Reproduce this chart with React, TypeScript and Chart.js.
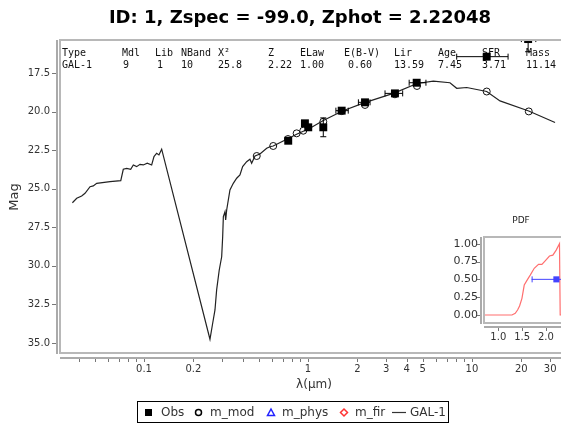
import React, { useEffect, useRef } from 'react';
import { Chart, registerables } from 'chart.js';

Chart.register(...registerables);

// ---- SED template GAL-1 (wavelength in micron, AB magnitude) ----
const sedWavelength = [
  0.0366, 0.0389, 0.0417, 0.0437, 0.0469, 0.0491, 0.0515, 0.0621, 0.0722, 0.0748,
  0.0785, 0.083, 0.0861, 0.0902, 0.0946, 0.0991, 0.1047, 0.1114, 0.1151, 0.1195,
  0.1234, 0.1282, 0.2526, 0.2624, 0.271, 0.2774, 0.2877, 0.2977, 0.3019, 0.3048,
  0.3119, 0.3149, 0.3194, 0.3344, 0.3505, 0.3675, 0.3848, 0.3996, 0.4228, 0.4427,
  0.4535, 0.4753, 0.5096, 0.56, 0.5866, 0.614, 0.7068, 0.853, 1.028, 1.24,
  1.623, 2.194, 3.35, 4.62, 5.81, 7.34, 8.07, 9.29, 12.3, 14.82, 22.18, 32.1,
];
const sedMag = [
  25.91, 25.62, 25.47, 25.3, 24.87, 24.82, 24.65, 24.54, 24.48, 23.74,
  23.68, 23.74, 23.46, 23.57, 23.42, 23.46, 23.35, 23.46, 22.92, 22.7,
  22.81, 22.44, 34.76, 33.72, 32.86, 31.56, 30.27, 29.41, 28.11, 26.81,
  26.49, 27.03, 26.38, 25.08, 24.65, 24.32, 24.11, 23.57, 23.25, 23.09,
  23.35, 22.88, 22.75, 22.38, 22.28, 22.23, 21.91, 21.47, 21.08, 20.58,
  19.96, 19.44, 18.8, 18.18, 18.02, 18.13, 18.49, 18.44, 18.7, 19.31, 19.96, 20.71,
];

// ---- observed photometry ----
const obsWavelength = [0.758, 0.958, 1.004, 1.24, 1.605, 2.227, 3.39, 4.6, 12.3, 22.0];
const obsMag = [21.89, 20.76, 21.02, 21.02, 19.94, 19.4, 18.82, 18.13, 16.44, 15.3];
const obsMagErr = [0, 0, 0, 0.61, 0, 0, 0, 0, 0, 0.82];
const obsBandLo = [0.758, 0.958, 1.004, 1.24, 1.48, 2.03, 2.95, 4.14, 8.07, 20.0];
const obsBandHi = [0.758, 0.958, 1.004, 1.24, 1.76, 2.39, 3.78, 5.24, 16.6, 24.5];

// ---- model magnitudes in each band ----
const modWavelength = [0.487, 0.614, 0.755, 0.853, 0.936, 1.24, 1.605, 2.227, 3.39, 4.62, 12.3, 22.2];
const modMag = [22.88, 22.23, 21.78, 21.41, 21.24, 20.66, 19.97, 19.57, 18.88, 18.34, 18.7, 19.99];

// ---- photo-z probability distribution ----
const pdfZ = [0.7, 1.287, 1.356, 1.405, 1.447, 1.497, 1.545, 1.615, 1.671, 1.755, 1.845, 1.916, 1.985, 2.075, 2.146, 2.216, 2.285, 2.3, 2.5];
const pdfProb = [0, 0, 0.024, 0.07, 0.126, 0.234, 0.42, 0.5, 0.56, 0.655, 0.71, 0.71, 0.76, 0.827, 0.84, 0.91, 1.0, 0, 0];
const zPhot = 2.22;
const zPhotLo = 1.7;
const zPhotHi = 2.6;

// ---- axis ticks ----
const xTickValues = [0.04, 0.05, 0.06, 0.07, 0.08, 0.09, 0.1, 0.2, 0.3, 0.4, 0.5, 0.6, 0.7, 0.8, 0.9, 1, 2, 3, 4, 5, 6, 7, 8, 9, 10, 20, 30];
const xTickLabelled = [0.1, 0.2, 1, 2, 3, 4, 5, 10, 20, 30];
const yTickValues = [17.5, 20, 22.5, 25, 27.5, 30, 32.5, 35];
const pdfYTicks = [0, 0.25, 0.5, 0.75, 1];
const pdfXTicks = [1, 1.5, 2];

// ---- fit summary table ----
const tableHeader = ['Type', 'Mdl', 'Lib', 'NBand', 'X\u00b2', 'Z', 'ELaw', 'E(B-V)', 'Lir', 'Age', 'SFR', 'Mass'];
const tableValues = ['GAL-1', '9', '1', '10', '25.8', '2.22', '1.00', '0.60', '13.59', '7.45', '3.71', '11.14'];

const titleText = 'ID: 1, Zspec = -99.0, Zphot = 2.22048';

const FONT = 'DejaVu Sans';
const MONO = 'DejaVu Sans Mono';
const FRAME = '#b8b8b8';
const AXIS = '#aaaaaa';
const TICK = '#777777';
const LABEL = '#333333';

// column offsets for the summary table
const headerColX = [62, 122, 155, 181, 218, 268, 300, 344, 394, 438, 482, 526];
const valueColX = [62, 123, 157, 181, 218, 268, 300, 348, 394, 438, 482, 526];

// keep the plot area exactly where the layout puts it
const noPad = (scale: any) => {
  scale.paddingLeft = 0;
  scale.paddingRight = 0;
  scale.paddingTop = 0;
  scale.paddingBottom = 0;
};

const mainDecor = {
  id: 'mainDecor',
  beforeDatasetsDraw(chart: any) {
    const ctx = chart.ctx as CanvasRenderingContext2D;
    ctx.save();
    ctx.font = `10px "${MONO}"`;
    ctx.fillStyle = '#111';
    ctx.textBaseline = 'alphabetic';
    ctx.textAlign = 'left';
    tableHeader.forEach((t, i) => ctx.fillText(t, headerColX[i], 56));
    tableValues.forEach((t, i) => ctx.fillText(t, valueColX[i], 68));
    ctx.restore();
  },
  afterDatasetsDraw(chart: any) {
    const ctx = chart.ctx as CanvasRenderingContext2D;
    const a = chart.chartArea;
    const xs = chart.scales.x;
    const ys = chart.scales.y;

    // error bars, clipped to the plot area
    ctx.save();
    ctx.beginPath();
    ctx.rect(a.left, a.top, a.right - a.left, a.bottom - a.top);
    ctx.clip();
    ctx.strokeStyle = '#000';
    ctx.lineWidth = 1;
    obsWavelength.forEach((w, i) => {
      const px = xs.getPixelForValue(w);
      const py = ys.getPixelForValue(obsMag[i]);
      if (obsBandHi[i] > obsBandLo[i]) {
        const x0 = xs.getPixelForValue(obsBandLo[i]);
        const x1 = xs.getPixelForValue(obsBandHi[i]);
        ctx.beginPath();
        ctx.moveTo(x0, py); ctx.lineTo(x1, py);
        ctx.moveTo(x0, py - 3); ctx.lineTo(x0, py + 3);
        ctx.moveTo(x1, py - 3); ctx.lineTo(x1, py + 3);
        ctx.stroke();
      }
      if (obsMagErr[i] > 0) {
        const y0 = ys.getPixelForValue(obsMag[i] - obsMagErr[i]);
        const y1 = ys.getPixelForValue(obsMag[i] + obsMagErr[i]);
        ctx.beginPath();
        ctx.moveTo(px, y0); ctx.lineTo(px, y1);
        ctx.moveTo(px - 3, y0); ctx.lineTo(px + 3, y0);
        ctx.moveTo(px - 3, y1); ctx.lineTo(px + 3, y1);
        ctx.stroke();
      }
    });
    ctx.restore();

    ctx.save();
    // plot frame
    ctx.strokeStyle = FRAME;
    ctx.lineWidth = 2;
    ctx.beginPath();
    ctx.moveTo(a.right + 2, a.top);
    ctx.lineTo(a.left, a.top);
    ctx.lineTo(a.left, a.bottom);
    ctx.lineTo(a.right + 2, a.bottom);
    ctx.stroke();
    // detached axis lines
    ctx.strokeStyle = AXIS;
    ctx.beginPath();
    ctx.moveTo(a.left - 3, a.top);
    ctx.lineTo(a.left - 3, a.bottom + 1);
    ctx.moveTo(a.left, a.bottom + 5);
    ctx.lineTo(a.right + 2, a.bottom + 5);
    ctx.stroke();
    // tick marks
    ctx.strokeStyle = TICK;
    ctx.lineWidth = 1;
    ctx.beginPath();
    ys.ticks.forEach((t: any) => {
      const py = Math.round(ys.getPixelForValue(t.value)) + 0.5;
      ctx.moveTo(a.left - 4, py);
      ctx.lineTo(a.left - 8, py);
    });
    xs.ticks.forEach((t: any) => {
      const px = Math.round(xs.getPixelForValue(t.value)) + 0.5;
      ctx.moveTo(px, a.bottom + 6);
      ctx.lineTo(px, a.bottom + 9);
    });
    ctx.stroke();
    ctx.restore();
  },
  afterDraw(chart: any) {
    const ctx = chart.ctx as CanvasRenderingContext2D;
    ctx.save();
    // title
    ctx.fillStyle = '#000';
    ctx.font = `bold 18px "${FONT}"`;
    ctx.textAlign = 'center';
    ctx.textBaseline = 'middle';
    ctx.fillText(titleText, 300, 18);

    // axis titles
    ctx.fillStyle = LABEL;
    ctx.font = `12px "${FONT}"`;
    ctx.fillText('\u03bb(\u03bcm)', 314, 385);
    ctx.save();
    ctx.translate(15, 197);
    ctx.rotate(-Math.PI / 2);
    ctx.font = `13px "${FONT}"`;
    ctx.fillText('Mag', 0, 0);
    ctx.restore();

    // legend
    const ly = 412.5;
    ctx.strokeStyle = '#000';
    ctx.lineWidth = 1;
    ctx.strokeRect(137.5, 401.5, 311, 21);
    ctx.font = `12px "${FONT}"`;
    ctx.textAlign = 'left';

    ctx.fillStyle = '#000';
    ctx.fillRect(145, ly - 3.5, 7, 7);
    ctx.fillStyle = LABEL;
    ctx.fillText('Obs', 161, ly);

    ctx.lineWidth = 1.5;
    ctx.beginPath();
    ctx.arc(198.5, ly, 3, 0, Math.PI * 2);
    ctx.stroke();
    ctx.fillText('m_mod', 210, ly);

    ctx.strokeStyle = '#2222ff';
    ctx.beginPath();
    ctx.moveTo(271, ly - 3.5);
    ctx.lineTo(274.5, ly + 3);
    ctx.lineTo(267.5, ly + 3);
    ctx.closePath();
    ctx.stroke();
    ctx.fillText('m_phys', 282, ly);

    ctx.strokeStyle = '#ff3333';
    ctx.beginPath();
    ctx.moveTo(344, ly - 3.5);
    ctx.lineTo(347.5, ly);
    ctx.lineTo(344, ly + 3.5);
    ctx.lineTo(340.5, ly);
    ctx.closePath();
    ctx.stroke();
    ctx.fillText('m_fir', 355, ly);

    ctx.strokeStyle = '#333';
    ctx.lineWidth = 1.2;
    ctx.beginPath();
    ctx.moveTo(392, ly);
    ctx.lineTo(406, ly);
    ctx.stroke();
    ctx.fillText('GAL-1', 410, ly);
    ctx.restore();
  },
};

const pdfDecor = {
  id: 'pdfDecor',
  afterDatasetsDraw(chart: any) {
    const ctx = chart.ctx as CanvasRenderingContext2D;
    const a = chart.chartArea;
    const xs = chart.scales.x;
    const ys = chart.scales.y;
    ctx.save();
    // best-fit redshift interval
    const py = ys.getPixelForValue(0.5);
    const x0 = xs.getPixelForValue(zPhotLo);
    const x1 = xs.getPixelForValue(zPhotHi);
    ctx.strokeStyle = '#4444ff';
    ctx.lineWidth = 1;
    ctx.beginPath();
    ctx.moveTo(x0, py); ctx.lineTo(x1, py);
    ctx.moveTo(x0 + 0.5, py - 3); ctx.lineTo(x0 + 0.5, py + 3);
    ctx.stroke();
    // frame
    ctx.strokeStyle = FRAME;
    ctx.lineWidth = 2;
    ctx.beginPath();
    ctx.moveTo(a.right + 2, a.top);
    ctx.lineTo(a.left, a.top);
    ctx.lineTo(a.left, a.bottom);
    ctx.lineTo(a.right + 2, a.bottom);
    ctx.stroke();
    ctx.strokeStyle = AXIS;
    ctx.beginPath();
    ctx.moveTo(a.left - 3, a.top);
    ctx.lineTo(a.left - 3, a.bottom + 1);
    ctx.moveTo(a.left, a.bottom + 4);
    ctx.lineTo(a.right + 2, a.bottom + 4);
    ctx.stroke();
    ctx.strokeStyle = TICK;
    ctx.lineWidth = 1;
    ctx.beginPath();
    ys.ticks.forEach((t: any) => {
      const y = Math.round(ys.getPixelForValue(t.value)) + 0.5;
      ctx.moveTo(a.left - 4, y);
      ctx.lineTo(a.left - 7, y);
    });
    xs.ticks.forEach((t: any) => {
      const x = Math.round(xs.getPixelForValue(t.value)) + 0.5;
      ctx.moveTo(x, a.bottom + 5);
      ctx.lineTo(x, a.bottom + 8);
    });
    ctx.stroke();
    // title
    ctx.fillStyle = '#222';
    ctx.font = `9px "${FONT}"`;
    ctx.textAlign = 'center';
    ctx.textBaseline = 'middle';
    ctx.fillText('PDF', 91, 16);
    ctx.restore();
  },
};

function toPoints(xs: number[], ys: number[]) {
  return xs.map((x, i) => ({ x, y: ys[i] }));
}

export default function App() {
  const mainRef = useRef<HTMLCanvasElement>(null);
  const pdfRef = useRef<HTMLCanvasElement>(null);

  useEffect(() => {
    if (!mainRef.current || !pdfRef.current) return;
    const tickFont = { family: FONT, size: 10 };

    const main = new Chart(mainRef.current, {
      type: 'scatter',
      data: {
        datasets: [
          {
            label: 'Obs',
            data: toPoints(obsWavelength, obsMag),
            pointStyle: 'rect',
            pointRadius: 5.6,
            backgroundColor: '#000',
            borderColor: '#000',
            borderWidth: 0,
          },
          {
            label: 'm_mod',
            data: toPoints(modWavelength, modMag),
            pointStyle: 'circle',
            pointRadius: 3.5,
            backgroundColor: 'rgba(0,0,0,0)',
            borderColor: '#111',
            borderWidth: 1,
          },
          {
            label: 'GAL-1',
            data: toPoints(sedWavelength, sedMag),
            showLine: true,
            pointRadius: 0,
            borderColor: '#222',
            borderWidth: 1.2,
            backgroundColor: '#222',
          },
        ],
      },
      options: {
        animation: false,
        responsive: false,
        events: [],
        layout: { autoPadding: false, padding: { top: 40, left: 0, right: 0, bottom: 0 } },
        plugins: { legend: { display: false }, tooltip: { enabled: false }, title: { display: false } },
        scales: {
          x: {
            type: 'logarithmic',
            min: 0.03076,
            max: 34.9,
            grid: { display: false, drawTicks: true, tickLength: 7 },
            border: { display: false },
            afterBuildTicks: (scale: any) => {
              scale.ticks = xTickValues.map((value) => ({ value }));
            },
            afterFit: (scale: any) => {
              scale.height = 74;
              noPad(scale);
            },
            ticks: {
              autoSkip: false,
              maxRotation: 0,
              padding: 3,
              color: LABEL,
              font: tickFont,
              callback: (v: any) => {
                const hit = xTickLabelled.find((l) => Math.abs(l - Number(v)) < l * 1e-6);
                return hit === undefined ? '' : String(hit);
              },
            },
          },
          y: {
            type: 'linear',
            reverse: true,
            min: 15.36,
            max: 35.65,
            grid: { display: false, drawTicks: true, tickLength: 7 },
            border: { display: false },
            afterBuildTicks: (scale: any) => {
              scale.ticks = yTickValues.map((value) => ({ value }));
            },
            afterFit: (scale: any) => {
              scale.width = 60;
              noPad(scale);
            },
            ticks: {
              autoSkip: false,
              padding: 3,
              color: LABEL,
              font: tickFont,
              callback: (v: any) => Number(v).toFixed(1),
            },
          },
        },
      },
      plugins: [mainDecor],
    } as any);

    const pdf = new Chart(pdfRef.current, {
      type: 'scatter',
      data: {
        datasets: [
          {
            label: 'zphot',
            data: [{ x: zPhot, y: 0.5 }],
            pointStyle: 'rect',
            pointRadius: 4.3,
            backgroundColor: '#4444ff',
            borderWidth: 0,
          },
          {
            label: 'PDF',
            data: toPoints(pdfZ, pdfProb),
            showLine: true,
            pointRadius: 0,
            borderColor: '#ff6f6f',
            borderWidth: 1.2,
          },
        ],
      },
      options: {
        animation: false,
        responsive: false,
        events: [],
        layout: { autoPadding: false, padding: { top: 32, left: 0, right: 0, bottom: 0 } },
        plugins: { legend: { display: false }, tooltip: { enabled: false } },
        scales: {
          x: {
            type: 'linear',
            min: 0.7,
            max: 2.317,
            grid: { display: false, drawTicks: true, tickLength: 5 },
            border: { display: false },
            afterBuildTicks: (scale: any) => {
              scale.ticks = pdfXTicks.map((value) => ({ value }));
            },
            afterFit: (scale: any) => {
              scale.height = 22;
              noPad(scale);
            },
            ticks: {
              autoSkip: false,
              maxRotation: 0,
              padding: 3,
              color: LABEL,
              font: { family: FONT, size: 10 },
              callback: (v: any) => Number(v).toFixed(1),
            },
          },
          y: {
            type: 'linear',
            min: -0.112,
            max: 1.094,
            grid: { display: false, drawTicks: true, tickLength: 3 },
            border: { display: false },
            afterBuildTicks: (scale: any) => {
              scale.ticks = pdfYTicks.map((value) => ({ value }));
            },
            afterFit: (scale: any) => {
              scale.width = 54;
              noPad(scale);
            },
            ticks: {
              autoSkip: false,
              padding: 3,
              color: LABEL,
              font: { family: FONT, size: 11 },
              callback: (v: any) => Number(v).toFixed(2),
            },
          },
        },
      },
      plugins: [pdfDecor],
    } as any);

    return () => {
      main.destroy();
      pdf.destroy();
    };
  }, []);

  return (
    <div style={{ position: 'fixed', left: 0, top: 0, width: 561, height: 427, background: '#fff', overflow: 'hidden' }}>
      <canvas ref={mainRef} width={561} height={427} style={{ position: 'absolute', left: 0, top: 0 }} />
      <canvas ref={pdfRef} width={131} height={140} style={{ position: 'absolute', left: 430, top: 205 }} />
    </div>
  );
}
